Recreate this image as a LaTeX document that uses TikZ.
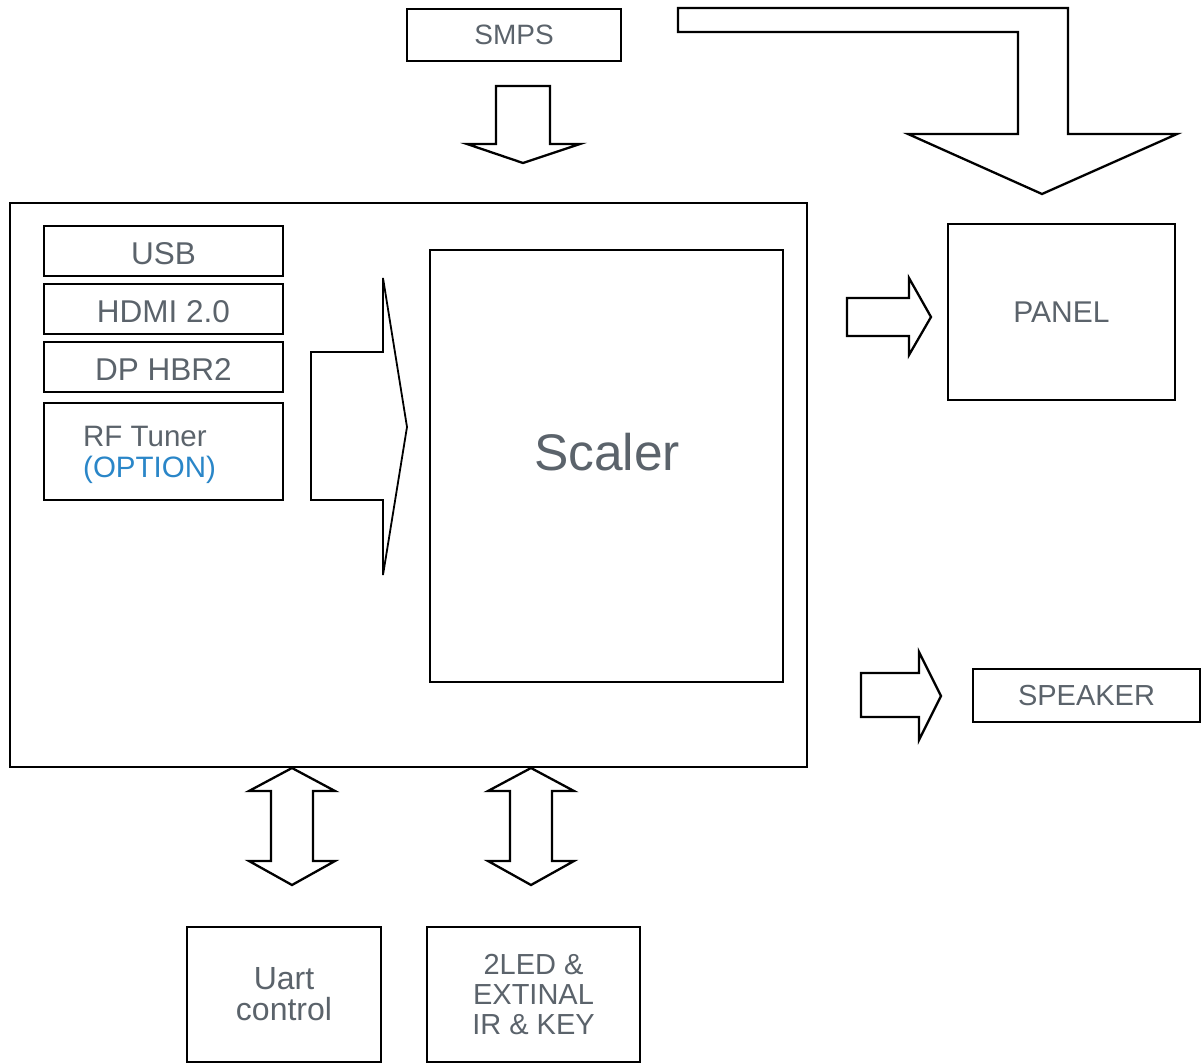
\documentclass[tikz,border=0pt]{standalone}
\usepackage{fontspec}
\setmainfont{Liberation Sans}
\definecolor{txtgray}{HTML}{5B636B}
\definecolor{optblue}{HTML}{2A86C8}
\begin{document}
\begin{tikzpicture}[x=1pt,y=-1pt,
  blk/.style={draw=black,line width=2.3pt,inner sep=0pt,fill=white,text=txtgray,
    font=\fontsize{29}{31}\selectfont,align=center},
  barrow/.style={draw=black,line width=2.3pt,line join=miter,fill=white}]
\useasboundingbox (0,0) rectangle (1203,1064);
% boxes
\node[blk,minimum width=214pt,minimum height=52pt,font=\fontsize{28}{31}\selectfont] (smps) at (514,35) {SMPS};
\node[draw=black,line width=2.3pt,minimum width=797pt,minimum height=564pt,inner sep=0pt] (main) at (408.5,485) {};
\node[blk,minimum width=239pt,minimum height=50pt,font=\fontsize{31.5}{31}\selectfont,text height=28pt,text depth=0pt] (usb) at (163.5,251) {USB};
\node[blk,minimum width=239pt,minimum height=50pt,font=\fontsize{31.5}{31}\selectfont,text height=28pt,text depth=0pt] (hdmi) at (163.5,309) {HDMI 2.0};
\node[blk,minimum width=239pt,minimum height=50pt,font=\fontsize{31.5}{31}\selectfont,text height=28pt,text depth=0pt] (dp) at (163.5,367) {DP HBR2};
\node[blk,minimum width=239pt,minimum height=97pt] (rf) at (163.5,451.5) {};
\node[text=txtgray,font=\fontsize{29.5}{31}\selectfont,align=left,anchor=west,inner sep=0pt] (rftxt) at (83,455) {RF Tuner\\\textcolor{optblue}{(OPTION)}};
\node[blk,minimum width=353pt,minimum height=432pt] (scaler) at (606.5,466) {};
\node[text=txtgray,font=\fontsize{51.5}{56}\selectfont,inner sep=0pt] (scalertxt) at (607,452) {Scaler};
\node[blk,minimum width=227pt,minimum height=176pt,font=\fontsize{30}{31}\selectfont] (panel) at (1061.5,312) {PANEL};
\node[blk,minimum width=227pt,minimum height=53pt] (speaker) at (1086.5,695.5) {SPEAKER};
\node[blk,minimum width=194pt,minimum height=135pt,font=\fontsize{32}{31}\selectfont] (uart) at (284,994.5) {Uart\\control};
\node[blk,minimum width=213pt,minimum height=135pt,font=\fontsize{29}{30}\selectfont] (led) at (533.5,994.5) {2LED \&\\EXTINAL\\IR \& KEY};
% SMPS down arrow
\draw[barrow] (496,86) -- (550,86) -- (550,144) -- (580,144) -- (523,163) -- (467,144) -- (496,144) -- cycle;
% big bent arrow to panel
\draw[barrow] (678,8) -- (1068,8) -- (1068,134) -- (1177,134) -- (1042,194) -- (908,134) -- (1018,134) -- (1018,32) -- (678,32) -- cycle;
% input arrow to scaler
\draw[barrow,line width=1.8pt] (311,352) -- (383,352) -- (383,278) -- (407,427) -- (383,575) -- (383,500) -- (311,500) -- cycle;
% arrow to panel
\draw[barrow] (847,298) -- (909,298) -- (909,278) -- (931,317) -- (909,355) -- (909,336) -- (847,336) -- cycle;
% arrow to speaker
\draw[barrow] (861,673) -- (919,673) -- (919,652) -- (941,696) -- (919,740) -- (919,717) -- (861,717) -- cycle;
% double arrows
\foreach \cx/\nm in {292/da, 531/db}{
  \draw[barrow] (\cx,768) -- (\cx+43,791) -- (\cx+21,791) -- (\cx+21,861) -- (\cx+43,861) -- (\cx,885)
    -- (\cx-43,861) -- (\cx-21,861) -- (\cx-21,791) -- (\cx-43,791) -- cycle;
}
\end{tikzpicture}
\end{document}
